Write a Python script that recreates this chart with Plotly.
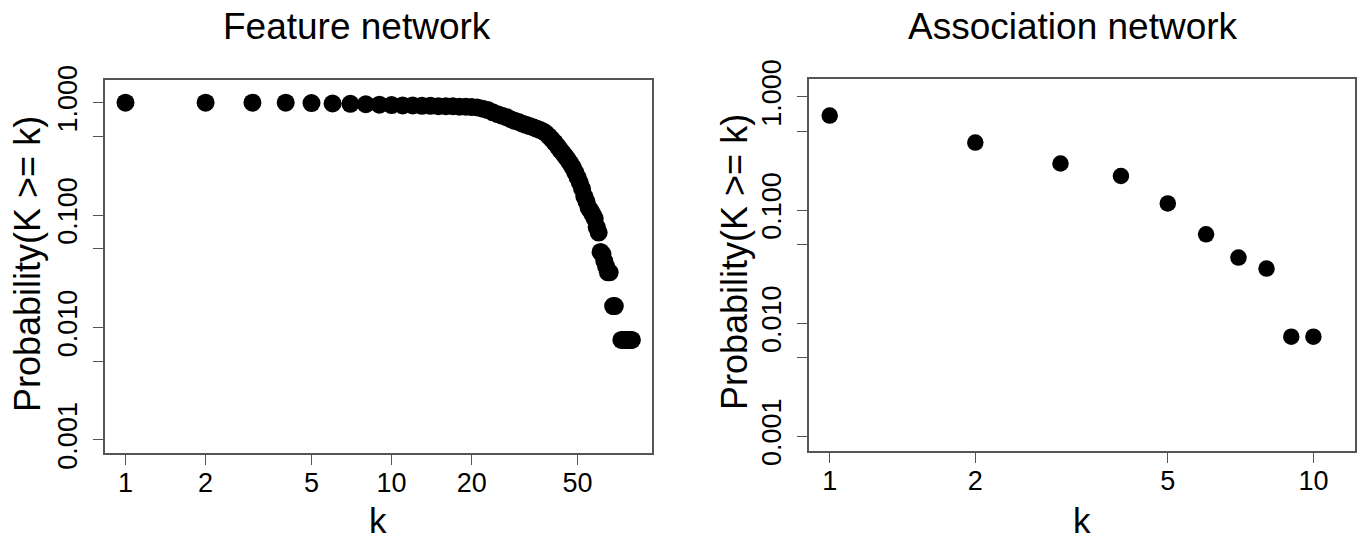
import plotly.graph_objects as go

# ---------------- data ----------------
feature_k = [1, 2, 3, 4, 5, 6, 7, 8, 9, 10,
             11, 12, 13, 14, 15, 16, 17, 18, 19, 20,
             21, 22, 23, 24, 25, 26, 27, 28, 29, 30,
             31, 32, 33, 34, 35, 36, 37, 38, 39, 40,
             41, 42, 43, 44, 45, 46, 47, 48, 49, 50,
             51, 52, 53, 54, 55, 56, 57, 58, 59, 60,
             61, 62, 63, 64, 65, 66, 68, 69,
             73, 74, 75, 76, 77, 78, 79, 80]
feature_p = [1.000, 1.000, 1.000, 1.000, 0.992, 0.984, 0.977, 0.969, 0.961, 0.953,
             0.946, 0.946, 0.938, 0.938, 0.930, 0.930, 0.930, 0.922, 0.922, 0.915,
             0.907, 0.884, 0.860, 0.822, 0.791, 0.767, 0.744, 0.713, 0.690, 0.674,
             0.651, 0.636, 0.620, 0.605, 0.589, 0.574, 0.558, 0.535, 0.504, 0.473,
             0.442, 0.411, 0.380, 0.357, 0.333, 0.310, 0.287, 0.264, 0.240, 0.217,
             0.194, 0.171, 0.147, 0.132, 0.116, 0.109, 0.101, 0.093, 0.078, 0.070,
             0.047, 0.045, 0.039, 0.035, 0.031, 0.031, 0.0155, 0.0155,
             0.00775, 0.00775, 0.00775, 0.00775, 0.00775, 0.00775, 0.00775, 0.00775]

assoc_k = [1, 2, 3, 4, 5, 6, 7, 8, 9, 10]
assoc_p = [0.685, 0.395, 0.258, 0.200, 0.1145, 0.061, 0.038, 0.0304, 0.0076, 0.0076]

x_tick_vals_left = [1, 2, 5, 10, 20, 50]
x_tick_vals_right = [1, 2, 5, 10]
y_tick_vals = [0.001, 0.005, 0.01, 0.05, 0.1, 0.5, 1]
y_tick_text = ["0.001", "", "0.010", "", "0.100", "", "1.000"]

titles = ["Feature network", "Association network"]
y_title = "Probability(K >= k)"
x_title = "k"

# ---------------- figure ----------------
W, H = 1361, 539
FONT = "Liberation Sans, Arial, Helvetica, sans-serif"
AX = "#555555"

fig = go.Figure()
fig.add_trace(go.Scatter(x=feature_k, y=feature_p, mode="markers",
                         marker=dict(color="black", size=18, line=dict(width=0)),
                         xaxis="x", yaxis="y", showlegend=False))
fig.add_trace(go.Scatter(x=assoc_k, y=assoc_p, mode="markers",
                         marker=dict(color="black", size=16.5, line=dict(width=0)),
                         xaxis="x2", yaxis="y2", showlegend=False))

def px_x(p):
    return p / W

def px_y(p):
    return 1 - p / H

common_x = dict(type="log", showgrid=False, zeroline=False, showline=True, mirror=True,
                automargin=False,
                linecolor=AX, linewidth=1.5, ticks="outside", ticklen=10, tickwidth=1.2,
                tickcolor=AX, tickfont=dict(family=FONT, size=27, color="black"),
                ticklabelstandoff=-5)
common_y = dict(type="log", showgrid=False, zeroline=False, showline=True, mirror=True,
                automargin=False,
                linecolor=AX, linewidth=1.5, ticks="outside", ticklen=10, tickwidth=1.2,
                tickcolor=AX, tickfont=dict(family=FONT, size=27, color="black"),
                tickvals=y_tick_vals, ticktext=y_tick_text, tickangle=-90,
                ticklabelstandoff=5)

fig.update_layout(
    width=W, height=H, autosize=False,
    margin=dict(l=0, r=0, t=0, b=0, pad=0, autoexpand=False),
    paper_bgcolor="white", plot_bgcolor="white",
    xaxis=dict(common_x, domain=[px_x(105), px_x(652)], range=[-0.0770, 1.9786],
               tickvals=x_tick_vals_left, ticktext=[str(v) for v in x_tick_vals_left],
               anchor="y"),
    yaxis=dict(common_y, domain=[px_y(453), px_y(80)], range=[-3.1165, 0.2020],
               anchor="x"),
    xaxis2=dict(common_x, domain=[px_x(809), px_x(1355)], range=[-0.0428, 1.0860],
                tickvals=x_tick_vals_right, ticktext=[str(v) for v in x_tick_vals_right],
                anchor="y2"),
    yaxis2=dict(common_y, domain=[px_y(451), px_y(79)], range=[-3.130, 0.159],
                anchor="x2"),
)

annots = [
    dict(text=titles[0], x=px_x(357), y=px_y(27), size=37, angle=0),
    dict(text=titles[1], x=px_x(1073), y=px_y(27), size=37, angle=0),
    dict(text=y_title, x=px_x(27), y=px_y(264), size=36, angle=-90),
    dict(text=y_title, x=px_x(734), y=px_y(262), size=36, angle=-90),
    dict(text=x_title, x=px_x(378), y=px_y(520), size=35, angle=0),
    dict(text=x_title, x=px_x(1082), y=px_y(520), size=35, angle=0),
]
for a in annots:
    fig.add_annotation(text=a["text"], x=a["x"], y=a["y"], xref="paper", yref="paper",
                       xanchor="center", yanchor="middle", showarrow=False,
                       textangle=a["angle"],
                       font=dict(family=FONT, size=a["size"], color="black"))

fig.write_html("out.html",
               config={"displayModeBar": False},
               post_script="document.body.style.margin='0';document.body.style.overflow='hidden';")
